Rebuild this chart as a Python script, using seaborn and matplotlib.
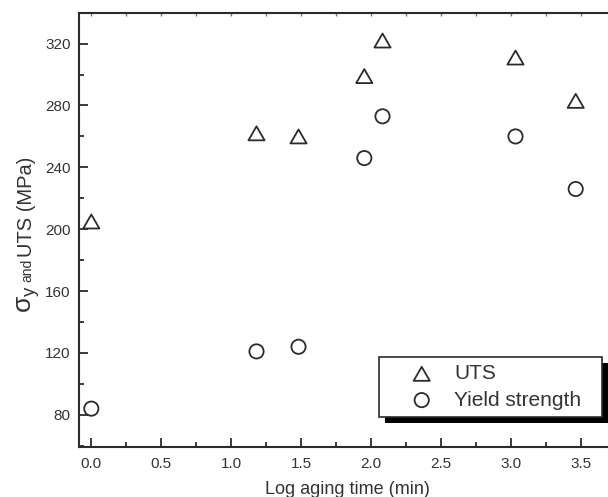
import pandas as pd
import seaborn as sns
import matplotlib.pyplot as plt
from matplotlib.patches import Rectangle
from matplotlib.path import Path
from matplotlib.transforms import IdentityTransform
from matplotlib.ticker import MultipleLocator

# values
log_time = [0.0, 1.18, 1.48, 1.95, 2.08, 3.03, 3.46]
uts = [205, 262, 260, 299, 322, 311, 283]
yield_strength = [84, 121, 124, 246, 273, 260, 226]

df = pd.DataFrame({"log_time": log_time, "uts": uts, "yield": yield_strength})

sns.set_style("ticks")
plt.rcParams["font.family"] = ["Liberation Sans", "DejaVu Sans"]
plt.rcParams["mathtext.fontset"] = "custom"
plt.rcParams["mathtext.rm"] = "Liberation Sans"
plt.rcParams["mathtext.it"] = "Liberation Sans:italic"

W, H = 608, 497
fig = plt.figure(figsize=(W / 100, H / 100), dpi=100)
# axes runs past the right edge of the picture, like the cropped original
ax = fig.add_axes([79 / W, 49.7 / H, 537.3 / W, 434.6 / H])

ink = "#2b2b2b"
# equilateral open triangle
tri = Path([(-1, -0.866), (1, -0.866), (0, 0.866), (-1, -0.866)], closed=True)

sns.scatterplot(data=df, x="log_time", y="uts", marker=tri, s=135,
                facecolor="none", edgecolor=ink, linewidth=1.3,
                label="UTS", ax=ax)
sns.scatterplot(data=df, x="log_time", y="yield", marker="o", s=105,
                facecolor="none", edgecolor=ink, linewidth=1.3,
                label="Yield strength", ax=ax)

ax.set_xlim(-0.088, 3.75)
ax.set_ylim(59, 340)
ax.xaxis.set_major_locator(MultipleLocator(0.5))
ax.xaxis.set_minor_locator(MultipleLocator(0.25))
ax.yaxis.set_major_locator(MultipleLocator(40))
ax.yaxis.set_minor_locator(MultipleLocator(20))
ax.xaxis.set_major_formatter(lambda v, p: f"{v:.1f}")

ax.tick_params(which="major", direction="in", length=6.5, width=1.3,
               labelsize=11, labelcolor="#333333", color=ink, pad=6)
ax.tick_params(which="minor", direction="in", length=3.8, width=1.3, color=ink)
ax.tick_params(axis="x", which="major", pad=7)

for side in ["left", "bottom", "top", "right"]:
    ax.spines[side].set_linewidth(1.5)
    ax.spines[side].set_color(ink)

top = ax.secondary_xaxis("top")
top.xaxis.set_major_locator(MultipleLocator(0.25))
top.tick_params(direction="in", length=2.0, width=1.0, color="#777777", labeltop=False)
top.spines["top"].set_visible(False)

ax.set_xlabel("Log aging time (min)", fontsize=13, color="#333333", labelpad=7)
ax.set_ylabel("")

# y label built from pieces of different sizes
base_x = 31.5 / W
fig.text(base_x, 1 - 313 / H, r"$\mathregular{\sigma_y}$", fontsize=19, rotation=90,
         rotation_mode="anchor", ha="left", va="baseline", color="#333333")
fig.text(base_x, 1 - 282 / H, "and", fontsize=10, rotation=90,
         rotation_mode="anchor", ha="left", va="baseline", color="#333333")
fig.text(base_x, 1 - 257 / H, "UTS (MPa)", fontsize=14.5, rotation=90,
         rotation_mode="anchor", ha="left", va="baseline", color="#333333")

leg = ax.legend(loc="upper left",
                bbox_to_anchor=(379 / W, 1 - 418 / H, 223 / W, 61 / H),
                bbox_transform=fig.transFigure, mode="expand",
                borderaxespad=0, fontsize=15, frameon=True, fancybox=False,
                handlelength=3.4, handletextpad=-0.15, borderpad=0.35,
                labelspacing=0.35)
frame = leg.get_frame()
frame.set_edgecolor(ink)
frame.set_linewidth(1.2)
frame.set_facecolor("white")
frame.set_alpha(1)
for t in leg.get_texts():
    t.set_color("#333333")

# black drop shadow behind the legend box
fig.canvas.draw()
bb = frame.get_window_extent()
shadow = Rectangle((bb.x0 + 6, bb.y0 - 6), bb.width, bb.height,
                   transform=IdentityTransform(), facecolor="black",
                   edgecolor="none", zorder=leg.get_zorder() - 0.1, clip_on=False)
ax.add_artist(shadow)

fig.savefig("out.png", dpi=100)
